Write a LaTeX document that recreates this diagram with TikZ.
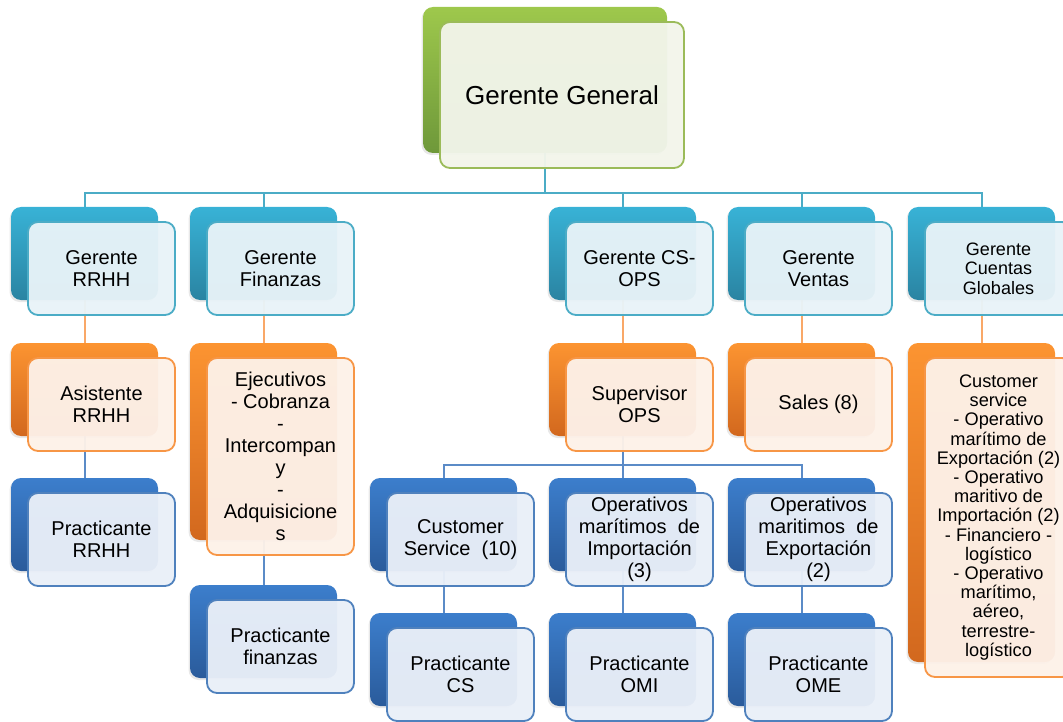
\documentclass[tikz,border=0pt]{standalone}
\usepackage{fontspec}
\setmainfont{Liberation Sans}
\usetikzlibrary{calc,shadows}
\pgfdeclarelayer{background}
\pgfsetlayers{background,main}
\definecolor{tealT}{HTML}{38B2D6}
\definecolor{tealB}{HTML}{2A84A2}
\definecolor{tealF}{HTML}{E8F3F8}
\definecolor{tealL}{HTML}{4BACC6}
\definecolor{orangeT}{HTML}{FC9431}
\definecolor{orangeB}{HTML}{D2681E}
\definecolor{orangeF}{HTML}{FDF1E8}
\definecolor{orangeL}{HTML}{F79646}
\definecolor{orangeC}{HTML}{F9A868}
\definecolor{blueT}{HTML}{3C7ECC}
\definecolor{blueB}{HTML}{2A5B9B}
\definecolor{blueF}{HTML}{E9EFF8}
\definecolor{blueL}{HTML}{4F81BD}
\definecolor{blueC}{HTML}{5B8BC7}
\definecolor{greenT}{HTML}{9EC84C}
\definecolor{greenB}{HTML}{6E983A}
\definecolor{greenF}{HTML}{F2F5EA}
\definecolor{greenL}{HTML}{9BBB59}
\tikzset{
  back/.style={rounded corners=10pt, inner sep=0pt, draw=none,
    drop shadow={shadow xshift=-1.5pt, shadow yshift=-2pt, opacity=0.18}},
  front/.style={rounded corners=10pt, inner sep=0pt, line width=1.8pt, align=center,
    fill opacity=0.96, text opacity=1, font=\fontsize{20}{22}\selectfont},
  tealback/.style={back, top color=tealT, bottom color=tealB},
  tealfront/.style={front, fill=tealF, draw=tealL},
  orangeback/.style={back, top color=orangeT, bottom color=orangeB},
  orangefront/.style={front, fill=orangeF, draw=orangeL},
  blueback/.style={back, top color=blueT, bottom color=blueB},
  bluefront/.style={front, fill=blueF, draw=blueL},
  greenback/.style={back, top color=greenT, bottom color=greenB},
  greenfront/.style={front, fill=greenF, draw=greenL},
  conn/.style={line width=2pt},
  tealconn/.style={conn, draw=tealL},
  orangeconn/.style={conn, draw=orangeC},
  blueconn/.style={conn, draw=blueC},
}
% #1 name, #2 x, #3 y (top-left of back box), #4 w, #5 h, #6 colour, #7 extra front options, #8 text
\newcommand\orgcard[8]{%
  \node[#6back, minimum width=#4pt, minimum height=#5pt] (#1b) at ({#2+#4/2},{#3+#5/2}) {};
  \node[#6front, minimum width=#4pt, minimum height=#5pt, #7] (#1) at ({#2+#4/2+17},{#3+#5/2+15}) {#8};
}
\begin{document}
\begin{tikzpicture}[x=1pt,y=-1pt]
\useasboundingbox (0,0) rectangle (1063,722);
\clip (0,0) rectangle (1063,722);
% level 0
\orgcard{gg}{423}{7}{244}{146}{green}{font=\fontsize{26}{30}\selectfont}{Gerente General}
% level 1
\orgcard{rrhh}{11}{207}{147}{93}{teal}{}{Gerente\\RRHH}
\orgcard{fin}{190}{207}{147}{93}{teal}{}{Gerente\\Finanzas}
\orgcard{csops}{549}{207}{147}{93}{teal}{}{Gerente CS-\\OPS}
\orgcard{ventas}{728}{207}{147}{93}{teal}{}{Gerente\\Ventas}
\orgcard{cg}{908}{207}{147}{93}{teal}{font=\fontsize{18}{19.5}\selectfont}{Gerente\\Cuentas\\Globales}
% level 2
\orgcard{asis}{11}{343}{147}{93}{orange}{}{Asistente\\RRHH}
\orgcard{ejec}{190}{343}{147}{197}{orange}{}{Ejecutivos\\- Cobranza\\-\\Intercompan\\y\\-\\Adquisicione\\s}
\orgcard{sup}{549}{343}{147}{93}{orange}{}{Supervisor\\OPS}
\orgcard{sales}{728}{343}{147}{93}{orange}{}{Sales (8)}
\orgcard{cs}{908}{343}{147}{319}{orange}{font=\fontsize{18.2}{19.2}\selectfont}{Customer\\service\\- Operativo\\marítimo de\\Exportación (2)\\- Operativo\\maritivo de\\Importación (2)\\- Financiero -\\logístico\\- Operativo\\marítimo,\\aéreo,\\terrestre-\\logístico}
% level 3
\orgcard{prrhh}{11}{478}{147}{93}{blue}{}{Practicante\\RRHH}
\orgcard{custs}{370}{478}{147}{93}{blue}{}{Customer\\Service~~(10)}
\orgcard{omi}{549}{478}{147}{93}{blue}{}{Operativos\\marítimos~~de\\Importación\\(3)}
\orgcard{ome}{728}{478}{147}{93}{blue}{}{Operativos\\maritimos~~de\\Exportación\\(2)}
% level 4
\orgcard{pfin}{190}{585}{147}{93}{blue}{}{Practicante\\finanzas}
\orgcard{pcs}{370}{613}{147}{93}{blue}{}{Practicante\\CS}
\orgcard{pomi}{549}{613}{147}{93}{blue}{}{Practicante\\OMI}
\orgcard{pome}{728}{613}{147}{93}{blue}{}{Practicante\\OME}
% connectors
\begin{pgfonlayer}{background}
\coordinate (bus0) at ($(rrhhb.north)+(0,-14)$);
\draw[tealconn] (ggb.south) -- (ggb.south |- bus0);
\draw[tealconn] (rrhhb.north) |- (cgb.north |- bus0) -- (cgb.north);
\foreach \n in {finb,csopsb,ventasb} \draw[tealconn] (\n.north) -- (\n.north |- bus0);
\draw[orangeconn] (rrhhb.south) -- (asisb.north);
\draw[orangeconn] (finb.south) -- (ejecb.north);
\draw[orangeconn] (csopsb.south) -- (supb.north);
\draw[orangeconn] (ventasb.south) -- (salesb.north);
\draw[orangeconn] (cgb.south) -- (csb.north);
\draw[blueconn] (asisb.south) -- (prrhhb.north);
\draw[blueconn] (ejecb.south) -- (pfinb.north);
\coordinate (bus2) at ($(supb.south)+(0,29)$);
\draw[blueconn] (supb.south) -- (omib.north);
\draw[blueconn] (custsb.north) |- (omeb.north |- bus2) -- (omeb.north);
\draw[blueconn] (custsb.south) -- (pcsb.north);
\draw[blueconn] (omib.south) -- (pomib.north);
\draw[blueconn] (omeb.south) -- (pomeb.north);
\end{pgfonlayer}
\end{tikzpicture}
\end{document}
